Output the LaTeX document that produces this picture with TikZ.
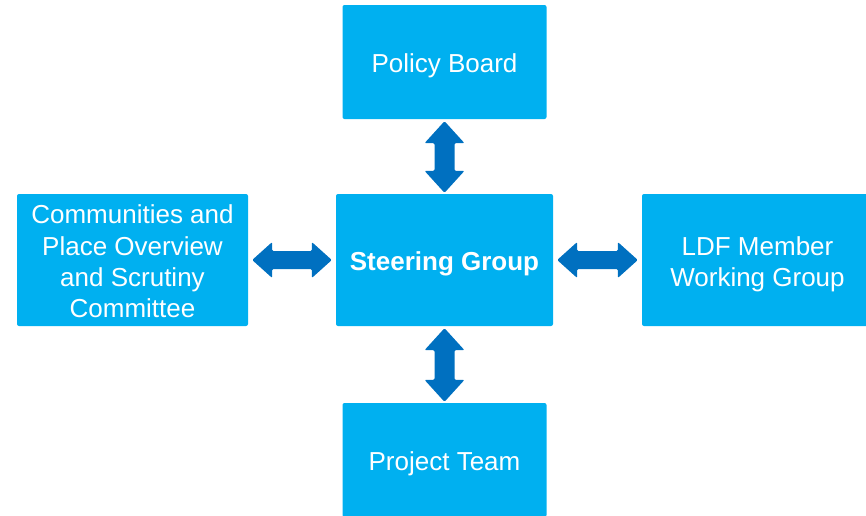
\documentclass[tikz,border=0pt]{standalone}
\usepackage{fontspec}
\setmainfont{Liberation Sans}
\usetikzlibrary{calc}
\definecolor{boxblue}{RGB}{0,176,240}
\definecolor{arrowblue}{RGB}{0,112,192}
\tikzset{
  unitbox/.style={rectangle, fill=boxblue, rounded corners=2pt, inner sep=0pt},
  unittext/.style={text=white, align=center, inner sep=0pt,
    font=\fontsize{26}{31.3}\selectfont},
  arrowfill/.style={fill=arrowblue, rounded corners=1.2pt},
}
\begin{document}
\begin{tikzpicture}[x=1pt,y=-1pt]
  \useasboundingbox (0,0) rectangle (866,515);
  \clip (0,0) rectangle (866,515);

  % organisational units
  \node[unitbox, minimum width=204pt, minimum height=114pt] (pb) at (444.5,62) {};
  \node[unitbox, minimum width=217pt, minimum height=132pt] (sg) at (444.5,260) {};
  \node[unitbox, minimum width=231pt, minimum height=132pt] (cp) at (132.5,260) {};
  \node[unitbox, minimum width=231pt, minimum height=132pt] (ldf) at (757.5,260) {};
  \node[unitbox, minimum width=204pt, minimum height=114pt] (pt) at (444.5,460) {};

  % their titles
  \node[unittext] (pbtext) at ($(pb.center)+(0,4)$) {Policy Board};
  \node[unittext] (sgtext) at ($(sg.center)+(0,3.5)$) {\bfseries Steering Group};
  \node[unittext] (cptext) at ($(cp.center)+(0,1.5)$)
    {Communities and\\Place Overview\\and Scrutiny\\Committee};
  \node[unittext] (ldftext) at ($(ldf.center)+(0,4.5)$) {LDF Member\\Working Group};
  \node[unittext] (pttext) at ($(pt.center)+(0,3.5)$) {Project Team};

  % vertical two-way arrows
  \foreach \up/\down in {pb/sg, sg/pt} {
    \coordinate (t) at ($(\up.south)+(0,2)$);
    \coordinate (b) at ($(t |- \down.north)+(0,-1)$);
    \fill[arrowfill] (t) -- ($(t)+(20,22)$) -- ($(t)+(10,22)$) -- ($(b)+(10,-22)$)
      -- ($(b)+(20,-22)$) -- (b) -- ($(b)+(-20,-22)$) -- ($(b)+(-10,-22)$)
      -- ($(t)+(-10,22)$) -- ($(t)+(-20,22)$) -- cycle;
  }

  % horizontal two-way arrows
  \foreach \lft/\rgt in {cp/sg, sg/ldf} {
    \coordinate (l) at ($(\lft.east)+(4,0)$);
    \coordinate (r) at ($(\rgt.west)+(-4,0)$);
    \fill[arrowfill] (l) -- ($(l)+(20,-18)$) -- ($(l)+(20,-9)$) -- ($(r)+(-20,-9)$)
      -- ($(r)+(-20,-18)$) -- (r) -- ($(r)+(-20,18)$) -- ($(r)+(-20,9)$)
      -- ($(l)+(20,9)$) -- ($(l)+(20,18)$) -- cycle;
  }
\end{tikzpicture}
\end{document}
